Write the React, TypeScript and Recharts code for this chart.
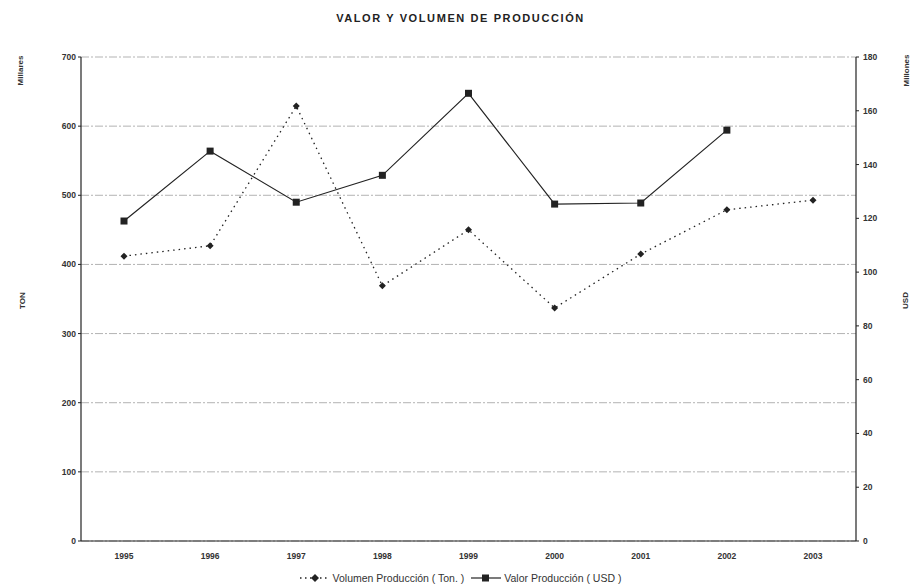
import React from 'react'
import { LineChart, Line, XAxis, YAxis, CartesianGrid } from 'recharts'

const years = ['1995', '1996', '1997', '1998', '1999', '2000', '2001', '2002', '2003']
// Volumen (miles de toneladas), left axis
const volumen = [412, 427, 629, 369, 450, 337, 415, 479, 493]
// Valor (millones USD), right axis
const valor: (number | null)[] = [119, 145, 126, 136, 166.5, 125.3, 125.7, 152.8, null]
const tonTicks = [0, 100, 200, 300, 400, 500, 600, 700]
const usdTicks = [0, 20, 40, 60, 80, 100, 120, 140, 160, 180]

const data = years.map((year, i) => ({ year, volumen: volumen[i], valor: valor[i] }))

const ink = '#222'
const tickStyle = { fill: '#333', fontSize: 8.5, fontFamily: 'Liberation Sans, Arial', fontWeight: 700 }

const Diamond = (props: any) => {
  const { cx, cy } = props
  if (cx == null || cy == null) return null
  return <polygon key={`d${cx}`} points={`${cx},${cy - 3.5} ${cx + 3.5},${cy} ${cx},${cy + 3.5} ${cx - 3.5},${cy}`} fill={ink} />
}

const Square = (props: any) => {
  const { cx, cy, value } = props
  if (cx == null || cy == null || value == null) return null
  return <rect key={`s${cx}`} x={cx - 3.5} y={cy - 3.5} width={7} height={7} fill={ink} />
}

const labelStyle: React.CSSProperties = {
  position: 'absolute',
  fontFamily: 'Liberation Sans, Arial',
  fontWeight: 700,
  fontSize: 8,
  color: '#333',
  transform: 'rotate(-90deg)',
  transformOrigin: 'center',
  whiteSpace: 'nowrap',
}

export default function App() {
  return (
    <div style={{ position: 'absolute', left: 0, top: 0, width: 921, height: 588, background: '#fff' }}>
      <div
        style={{
          position: 'absolute',
          top: 12,
          left: 0,
          width: 921,
          textAlign: 'center',
          fontFamily: 'Liberation Sans, Arial',
          fontWeight: 700,
          fontSize: 11,
          letterSpacing: 1.6,
          color: '#222',
        }}
      >
        VALOR Y VOLUMEN DE PRODUCCIÓN
      </div>
      <div style={{ ...labelStyle, left: 6, top: 66 }}>Millares</div>
      <div style={{ ...labelStyle, left: 14, top: 296 }}>TON</div>
      <div style={{ ...labelStyle, left: 890, top: 66 }}>Millones</div>
      <div style={{ ...labelStyle, left: 897, top: 296 }}>USD</div>

      <LineChart width={921} height={588} data={data} margin={{ top: 57, right: 25, bottom: 17, left: 41 }}>
        <CartesianGrid vertical={false} stroke="#aaa" strokeWidth={0.9} strokeDasharray="8 2 2 2" yAxisId="ton" />
        <XAxis
          dataKey="year"
          padding={{ left: 43, right: 43 }}
          height={30}
          tick={tickStyle}
          tickLine={false}
          axisLine={{ stroke: ink, strokeWidth: 1.2 }}
          tickMargin={6}
        />
        <YAxis
          yAxisId="ton"
          orientation="left"
          width={40}
          domain={[0, 700]}
          ticks={tonTicks}
          tick={tickStyle}
          tickSize={3}
          tickLine={{ stroke: ink }}
          axisLine={{ stroke: ink, strokeWidth: 1.2 }}
          interval={0}
        />
        <YAxis
          yAxisId="usd"
          orientation="right"
          width={40}
          domain={[0, 180]}
          ticks={usdTicks}
          tick={tickStyle}
          tickSize={3}
          tickMargin={4}
          tickLine={{ stroke: ink }}
          axisLine={{ stroke: ink, strokeWidth: 1.2 }}
          interval={0}
        />
        <Line
          yAxisId="ton"
          dataKey="volumen"
          name="Volumen Producción ( Ton. )"
          type="linear"
          stroke={ink}
          strokeWidth={1.3}
          strokeDasharray="1.5 4"
          dot={Diamond}
          activeDot={false}
          isAnimationActive={false}
        />
        <Line
          yAxisId="usd"
          dataKey="valor"
          name="Valor Producción ( USD )"
          type="linear"
          stroke={ink}
          strokeWidth={1.2}
          dot={Square}
          activeDot={false}
          isAnimationActive={false}
        />
      </LineChart>

      <div
        style={{
          position: 'absolute',
          top: 572,
          left: 0,
          width: 921,
          display: 'flex',
          justifyContent: 'center',
          alignItems: 'center',
          fontFamily: 'Liberation Sans, Arial',
          fontSize: 10.5,
          color: '#333',
          gap: 3,
        }}
      >
        <svg width={30} height={10}>
          <line x1={0} y1={5} x2={30} y2={5} stroke={ink} strokeWidth={1.3} strokeDasharray="1.5 3.5" />
          <polygon points="15,1 19,5 15,9 11,5" fill={ink} />
        </svg>
        <span>Volumen Producción ( Ton. )</span>
        <svg width={30} height={10} style={{ marginLeft: 4 }}>
          <line x1={0} y1={5} x2={30} y2={5} stroke={ink} strokeWidth={1.2} />
          <rect x={11} y={1.5} width={7} height={7} fill={ink} />
        </svg>
        <span>Valor Producción ( USD )</span>
      </div>
    </div>
  )
}
